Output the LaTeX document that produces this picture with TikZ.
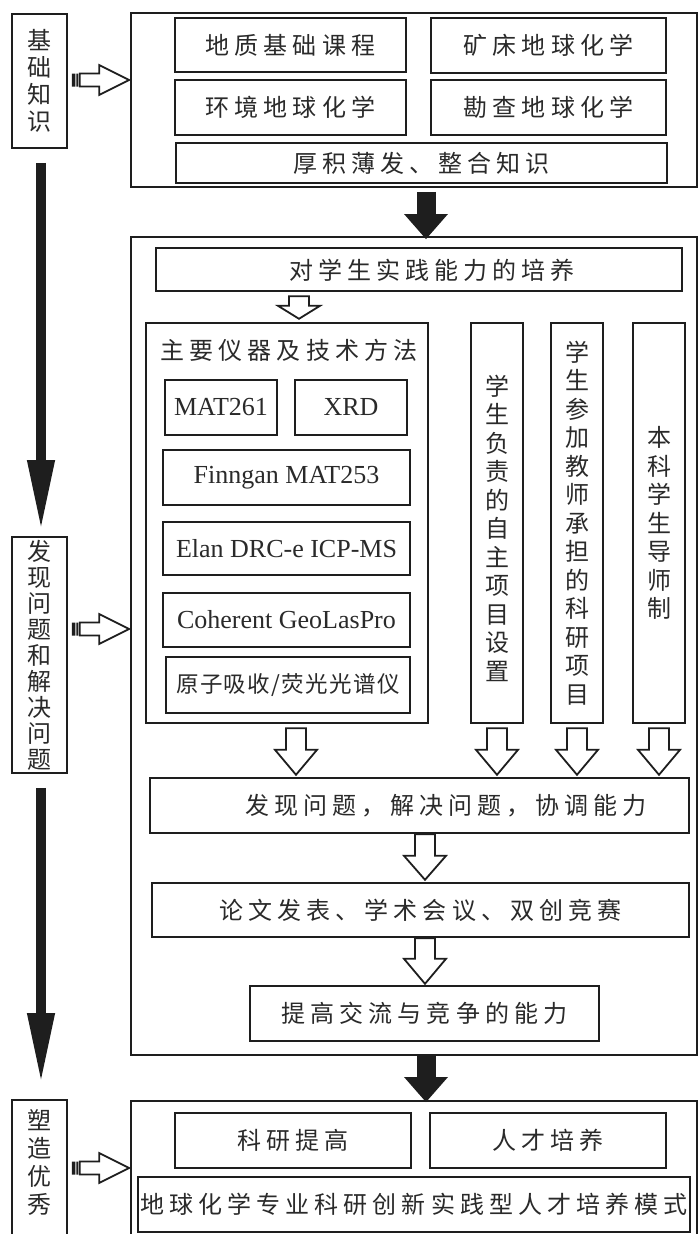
\documentclass[tikz,border=0pt]{standalone}
\usepackage{fontspec}
\setmainfont{Liberation Serif}
\newfontfamily\cjh{Noto Sans CJK SC}[LetterSpace=21]
\newfontfamily\cjs{Noto Sans CJK SC}[LetterSpace=6]
\newfontfamily\cjv{Noto Sans CJK SC}
\usetikzlibrary{arrows.meta,calc,fit}
\definecolor{ln}{HTML}{1E1E1E}
\definecolor{tx}{HTML}{2A2A2A}
\tikzset{
  outerbox/.style={draw=ln, line width=1.6pt, inner sep=0pt},
  ib/.style={draw=ln, line width=2.4pt, inner sep=0pt},
  ht/.style={font=\cjh\fontsize{24}{28}\selectfont, text=tx, inner sep=0pt},
  hs/.style={font=\cjs\fontsize{22.5}{28}\selectfont, text=tx, inner sep=0pt},
  lat/.style={font=\fontsize{26}{30}\selectfont, text=tx, inner sep=0pt},
  vt/.style={font=\cjv\fontsize{24}{28.5}\selectfont, align=center, text=tx},
  lvt/.style={font=\cjv\fontsize{24}{27}\selectfont, align=center, text=tx},
  harrow/.style={draw=ln, line width=1.8pt, fill=white, line join=miter},
  bigarrow/.style={draw=ln, line width=19pt, -{Triangle[length=25pt,width=42pt]}},
  sidearrow/.style={draw=ln, line width=10pt, -{Triangle[length=71pt,width=25pt]}},
}
\newcommand\hdown[6]{%
  \draw[harrow] let \p1=(#2), \p2=(#3) in
    (#1pt-10pt,\y1-#4) -- (#1pt+10pt,\y1-#4) -- (#1pt+10pt,\y2+#5+#6) --
    (#1pt+21pt,\y2+#5+#6) -- (#1pt,\y2+#5) -- (#1pt-21pt,\y2+#5+#6) --
    (#1pt-10pt,\y2+#5+#6) -- cycle;}
\newcommand\stripe[3]{%
  \fill[ln] let \p1=(#1.east), \p3=(#3) in
    (\x1+4pt,\y3-6.5pt) rectangle (\x1+7.5pt,\y3+6.5pt)
    (\x1+8.5pt,\y3-6.5pt) rectangle (\x1+10.5pt,\y3+6.5pt);
  \draw[harrow] let \p1=(#1.east), \p2=(#2.west), \p3=(#3) in
    (\x1+12pt,\y3+6.5pt) -- (\x2-31pt,\y3+6.5pt) -- (\x2-31pt,\y3+15pt) --
    (\x2-1pt,\y3) -- (\x2-31pt,\y3-15pt) -- (\x2-31pt,\y3-6.5pt) --
    (\x1+12pt,\y3-6.5pt) -- cycle;}
\begin{document}
\begin{tikzpicture}[x=1pt,y=-1pt]
\useasboundingbox (0,0) rectangle (700,1234);
\fill[white] (0,0) rectangle (700,1234);

% left column
\node[outerbox, fit={(12,14) (67,148)}] (L1) {};
\node[lvt] (L1t) at (L1.center) {基\\础\\知\\识};
\node[outerbox, fit={(12,537) (67,773)}] (L2) {};
\node[lvt, font=\cjv\fontsize{24}{26}\selectfont] (L2t) at (L2.center) {发\\现\\问\\题\\和\\解\\决\\问\\题};
\node[outerbox, fit={(12,1100) (67,1240)}] (L3) {};
\node[lvt, font=\cjv\fontsize{24}{28}\selectfont] (L3t) at (39.5,1162) {塑\\造\\优\\秀};

% top block
\node[outerbox, fit={(131,13) (697,187)}] (top) {};
\node[ib, fit={(175,18) (406,72)}] (a1) {};
\node[ht] (a1t) at (a1.center) {地质基础课程};
\node[ib, fit={(431,18) (666,73)}] (a2) {};
\node[ht] (a2t) at (a2.center) {矿床地球化学};
\node[ib, fit={(175,80) (406,135)}] (a3) {};
\node[ht] (a3t) at (a3.center) {环境地球化学};
\node[ib, fit={(431,80) (666,135)}] (a4) {};
\node[ht] (a4t) at (a4.center) {勘查地球化学};
\node[ib, fit={(176,143) (667,183)}] (a5) {};
\node[ht] (a5t) at (a5.center) {厚积薄发、整合知识};

% middle block
\node[outerbox, fit={(131,237) (697,1055)}] (mid) {};
\node[ib, fit={(156,248) (682,291)}] (p1) {};
\node[ht] (p1t) at (432,270) {对学生实践能力的培养};
\node[ib, fit={(146,323) (428,723)}] (p2) {};
\node[ht] (p2t) at (289,350) {主要仪器及技术方法};
\node[ib, fit={(165,380) (277,435)}] (m1) {};
\node[lat] (m1t) at (m1.center) {MAT261};
\node[ib, fit={(295,380) (407,435)}] (m2) {};
\node[lat] (m2t) at (m2.center) {XRD};
\node[ib, fit={(163,450) (410,505)}] (m3) {};
\node[lat] (m3t) at (m3.center) {Finngan MAT253};
\node[ib, fit={(163,522) (410,575)}] (m4) {};
\node[lat] (m4t) at (m4.center) {Elan DRC-e ICP-MS};
\node[ib, fit={(163,593) (410,647)}] (m5) {};
\node[lat] (m5t) at (m5.center) {Coherent GeoLasPro};
\node[ib, fit={(166,657) (410,713)}] (m6) {};
\node[hs] (m6t) at (m6.center) {原子吸收/荧光光谱仪};
\node[ib, fit={(471,323) (523,723)}] (v1) {};
\node[vt] (v1t) at (497,528) {学\\生\\负\\责\\的\\自\\主\\项\\目\\设\\置};
\node[ib, fit={(551,323) (603,723)}] (v2) {};
\node[vt] (v2t) at (577,523) {学\\生\\参\\加\\教\\师\\承\\担\\的\\科\\研\\项\\目};
\node[ib, fit={(633,323) (685,723)}] (v3) {};
\node[vt] (v3t) at (659,523) {本\\科\\学\\生\\导\\师\\制};
\node[ib, fit={(150,778) (689,833)}] (q1) {};
\node[ht] (q1t) at (446,806) {发现问题，解决问题，协调能力};
\node[ib, fit={(152,883) (689,937)}] (q2) {};
\node[ht] (q2t) at (q2.center) {论文发表、学术会议、双创竞赛};
\node[ib, fit={(250,986) (599,1041)}] (q3) {};
\node[ht] (q3t) at (q3.center) {提高交流与竞争的能力};

% bottom block
\node[outerbox, fit={(131,1101) (697,1240)}] (bot) {};
\node[ib, fit={(175,1113) (411,1168)}] (r1) {};
\node[ht] (r1t) at (r1.center) {科研提高};
\node[ib, fit={(430,1113) (666,1168)}] (r2) {};
\node[ht] (r2t) at (r2.center) {人才培养};
\node[ib, fit={(138,1177) (690,1232)}] (r3) {};
\node[ht] (r3t) at (r3.center) {地球化学专业科研创新实践型人才培养模式};

% black arrows
\coordinate (cx) at (426,0);
\draw[bigarrow] ($(top.south -| cx)+(0,4)$) -- ($(mid.north -| cx)+(0,3)$);
\draw[bigarrow] (mid.south -| cx) -- ($(bot.north -| cx)+(0,2)$);
\coordinate (lx) at (41,0);
\draw[sidearrow] ($(L1.south -| lx)+(0,14)$) -- ($(L2.north -| lx)+(0,-5)$);
\draw[sidearrow] ($(L2.south -| lx)+(0,14)$) -- ($(L3.north -| lx)+(0,-15)$);

% striped arrows
\coordinate (s1) at (0,80);
\coordinate (s2) at (0,629);
\coordinate (s3) at (0,1168);
\stripe{L1}{top}{s1}
\stripe{L2}{mid}{s2}
\stripe{L3}{bot}{s3}

% hollow arrows
\hdown{299}{p1.south}{p2.north}{4pt}{3pt}{13}
\hdown{296}{p2.south}{q1.north}{4pt}{2pt}{25}
\hdown{497}{v1.south}{q1.north}{4pt}{2pt}{25}
\hdown{577}{v2.south}{q1.north}{4pt}{2pt}{25}
\hdown{659}{v3.south}{q1.north}{4pt}{2pt}{25}
\hdown{425}{q1.south}{q2.north}{0pt}{2pt}{24}
\hdown{425}{q2.south}{q3.north}{0pt}{1pt}{25}
\end{tikzpicture}
\end{document}
